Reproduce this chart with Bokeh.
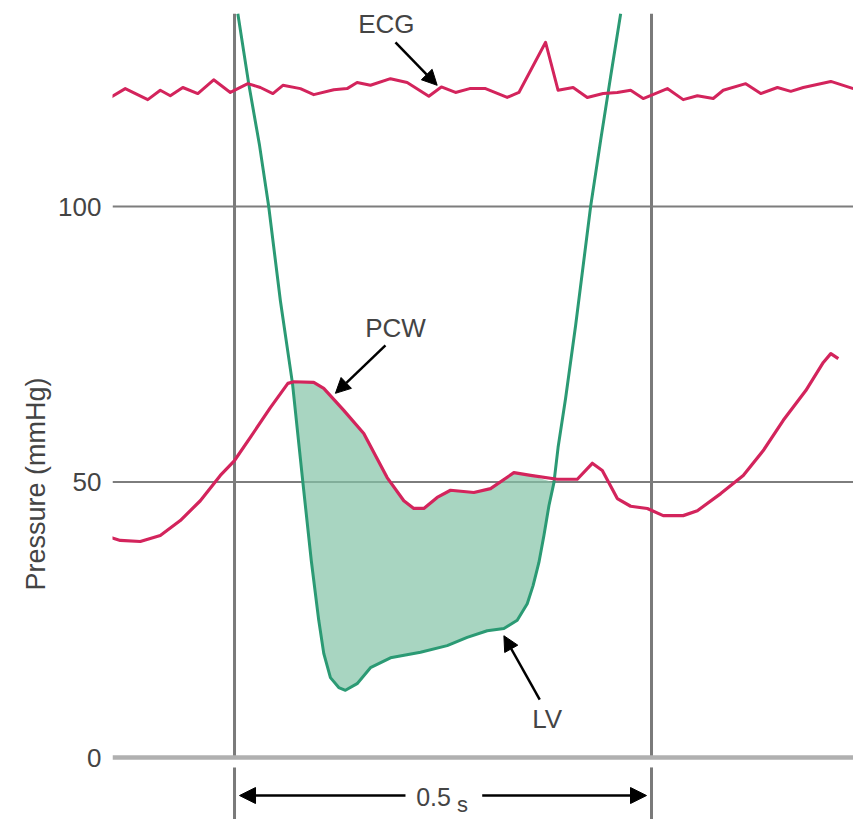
import math
from bokeh.plotting import figure
from bokeh.models import Range1d, FixedTicker, Span, Arrow, NormalHead, Label, Title
from bokeh.embed import file_html
from bokeh.resources import INLINE

# time in seconds (0 = first marker), pressure in mmHg
ecg_t = [-0.151, -0.131, -0.104, -0.089, -0.077, -0.062, -0.044, -0.025, -0.005, 0.016,
         0.031, 0.046, 0.058, 0.079, 0.095, 0.119, 0.135, 0.147, 0.163, 0.187,
         0.207, 0.233, 0.248, 0.265, 0.282, 0.301, 0.327, 0.341, 0.373, 0.388,
         0.406, 0.423, 0.442, 0.459, 0.475, 0.490, 0.519, 0.538, 0.555, 0.574,
         0.586, 0.613, 0.631, 0.651, 0.667, 0.682, 0.715, 0.742]
ecg_p = [119.6, 121.4, 119.4, 121.1, 120.1, 121.6, 120.5, 123.0, 120.7, 122.3,
         121.6, 120.5, 122.0, 121.4, 120.3, 121.2, 121.4, 122.5, 122.0, 123.2,
         122.5, 120.0, 121.7, 120.7, 121.4, 121.4, 119.8, 120.7, 129.8, 121.1,
         121.6, 119.8, 120.5, 120.7, 121.1, 119.6, 121.4, 119.4, 120.1, 119.6,
         121.1, 122.3, 120.5, 121.6, 120.9, 121.6, 122.7, 121.4]

pcw_t = [-0.156, -0.137, -0.113, -0.089, -0.065, -0.041, -0.017, 0.0, 0.019, 0.043,
         0.064, 0.071, 0.095, 0.107, 0.131, 0.155, 0.183, 0.203, 0.215, 0.227,
         0.243, 0.259, 0.287, 0.307, 0.335, 0.355, 0.387, 0.411, 0.429, 0.441,
         0.459, 0.475, 0.495, 0.514, 0.538, 0.555, 0.583, 0.610, 0.634, 0.658,
         0.685, 0.706, 0.715, 0.724]
pcw_p = [40.3, 39.4, 39.2, 40.3, 43.0, 46.6, 51.2, 53.9, 58.1, 63.5,
         67.9, 68.2, 68.1, 67.0, 63.0, 58.8, 50.8, 46.6, 45.2, 45.2,
         47.2, 48.5, 48.1, 48.8, 51.7, 51.2, 50.5, 50.5, 53.4, 52.1,
         47.0, 45.6, 45.2, 43.9, 43.9, 44.8, 47.9, 51.2, 55.7, 61.2,
         66.6, 71.7, 73.3, 72.4]

lv_t = [0.004, 0.017, 0.030, 0.041, 0.055, 0.0695, 0.082, 0.092, 0.101, 0.107,
        0.115, 0.125, 0.133, 0.147, 0.163, 0.187, 0.223, 0.255, 0.279, 0.303,
        0.323, 0.339, 0.351, 0.358, 0.365, 0.371, 0.377, 0.383, 0.388, 0.397,
        0.409, 0.427, 0.439, 0.451, 0.463]
lv_p = [135.0, 122.3, 111.1, 100.0, 82.9, 67.9, 49.9, 35.8, 24.9, 18.9,
        14.5, 12.7, 12.2, 13.4, 16.3, 18.1, 19.1, 20.3, 21.8, 23.0,
        23.4, 24.9, 27.9, 31.2, 35.4, 40.3, 45.7, 49.9, 56.3, 65.2,
        78.4, 100.0, 112.0, 123.6, 135.0]

y_ticks = [0, 50, 100]
marker_t = [0.0, 0.5]

PINK = "#d3245c"
GREEN = "#2b9a74"
TEXT = "#444444"
FONT = "Liberation Sans"

p = figure(width=853, height=819, x_range=Range1d(-0.1463, 0.7422),
           y_range=Range1d(-11.25, 137.39), output_backend="svg",
           toolbar_location=None, x_axis_location=None,
           min_border_left=112, min_border_right=0, min_border_top=0, min_border_bottom=0)
p.outline_line_color = None
p.xgrid.visible = False
p.ygrid.visible = False

ax = p.yaxis[0]
ax.ticker = FixedTicker(ticks=y_ticks)
ax.axis_line_color = None
ax.major_tick_line_color = None
ax.minor_tick_line_color = None
ax.major_label_standoff = 5
ax.major_label_text_font = FONT
ax.major_label_text_font_size = "26px"
ax.major_label_text_color = TEXT

# y axis title, placed from the bottom so it sits level with the 50 mmHg line
p.add_layout(Title(text="Pressure (mmHg)", align="left", offset=229,
                   text_font=FONT, text_font_size="27px", text_font_style="normal",
                   text_color=TEXT, standoff=9), "left")

# horizontal reference lines
for v in y_ticks:
    if v == 0:
        p.add_layout(Span(location=v, dimension="width", line_color="#b0b0b0",
                          line_width=4.5, level="underlay"))
    else:
        p.add_layout(Span(location=v, dimension="width", line_color="#7d7d7d",
                          line_width=2.2, level="underlay"))

# vertical time markers
p.segment(x0=marker_t, y0=[0] * 2, x1=marker_t, y1=[135.0] * 2,
          line_color="#7a7a7a", line_width=3, level="underlay")
p.segment(x0=marker_t, y0=[-1.8] * 2, x1=marker_t, y1=[-11.2] * 2,
          line_color="#7a7a7a", line_width=3, level="underlay")

# shaded area where PCW exceeds LV
lo, hi = 0.069, 0.384
poly_t = [t for t in pcw_t if lo <= t <= hi]
poly_p = [v for t, v in zip(pcw_t, pcw_p) if lo <= t <= hi]
lv_in = [(t, v) for t, v in zip(lv_t, lv_p) if lo <= t <= hi]
for t, v in reversed(lv_in):
    poly_t.append(t)
    poly_p.append(v)
p.patch(poly_t, poly_p, fill_color=(131, 195, 166), fill_alpha=0.7, line_color=None)

p.line(lv_t, lv_p, line_color=GREEN, line_width=3, line_join="round")
p.line(pcw_t, pcw_p, line_color=PINK, line_width=3.2, line_join="round")
p.line(ecg_t, ecg_p, line_color=PINK, line_width=3, line_join="round")

def arrow(x0, y0, x1, y1, size=15):
    p.add_layout(Arrow(end=NormalHead(size=size, fill_color="black", line_color="black"),
                       x_start=x0, y_start=y0, x_end=x1, y_end=y1,
                       line_color="black", line_width=2.5))

def label(x, y, text, size="26px", angle=0.0):
    p.add_layout(Label(x=x, y=y, text=text, text_font=FONT, text_font_size=size,
                       text_color=TEXT, text_align="center", text_baseline="middle",
                       angle=angle))

label(0.182, 133.2, "ECG")
arrow(0.193, 129.8, 0.243, 122.0)
label(0.193, 77.9, "PCW")
arrow(0.181, 74.8, 0.121, 66.1)
label(0.375, 6.9, "LV")
arrow(0.366, 10.5, 0.323, 22.1)

# 0.5 s interval
arrow(0.205, -6.9, 0.006, -6.9, size=16)
arrow(0.297, -6.9, 0.494, -6.9, size=16)
label(0.2386, -7.1, "0.5", size="25px")
label(0.2734, -8.6, "s", size="22px")

open("out.html", "w").write(file_html(p, INLINE))
